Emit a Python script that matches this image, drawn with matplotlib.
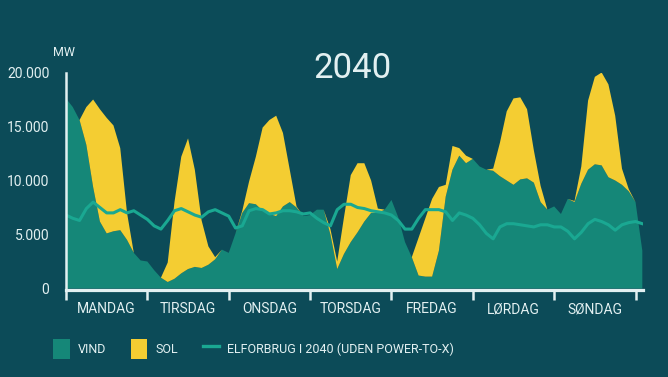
import matplotlib
matplotlib.use("Agg")
import matplotlib.pyplot as plt
from matplotlib.patches import Patch
from matplotlib.lines import Line2D
import numpy as np

plt.rcParams['font.family'] = ['Roboto', 'DejaVu Sans']

BG = "#0c4b58"
VIND_C = "#158778"
SOL_C = "#f4cd32"
LINE_C = "#1aa892"
TXT = "#e2f0f1"

# hours since Monday 00:00, every 2 hours
HOURS = list(range(0, 171, 2))

# MW (thousands)
VIND = [17.6, 16.8, 15.6, 13.3, 9.4, 6.2, 5.1, 5.3, 5.4, 4.5, 3.3, 2.6, 2.5, 1.7, 1.0,
        0.6, 0.9, 1.4, 1.8, 2.0, 1.9, 2.2, 2.7, 3.6, 3.3, 5.1, 7.0, 7.9, 7.8, 7.2,
        6.9, 6.7, 7.6, 8.0, 7.5, 6.7, 6.8, 7.3, 7.3, 5.0, 1.8, 3.2, 4.3, 5.2, 6.2,
        7.0, 7.0, 7.3, 8.2, 6.6, 4.3, 2.9, 1.2, 1.1, 1.1, 3.5, 8.5, 11.0, 12.3, 11.6,
        12.0, 11.3, 11.0, 10.9, 10.4, 10.0, 9.6, 10.1, 10.2, 9.8, 8.0, 7.3, 7.6, 6.9, 8.3,
        8.0, 9.7, 11.0, 11.5, 11.4, 10.3, 10.0, 9.6, 9.0, 8.0, 3.5]
SOL = [0.0, 0.0, 0.0, 3.5, 8.1, 10.4, 10.7, 9.8, 7.6, 2.5, 0.0, 0.0, 0.0, 0.0, 0.0,
       1.8, 7.1, 10.8, 12.1, 9.0, 4.4, 1.7, 0.2, 0.0, 0.0, 0.0, 0.2, 2.0, 4.4, 7.7,
       8.7, 9.3, 6.8, 3.0, 0.1, 0.0, 0.0, 0.0, 0.0, 0.5, 0.7, 3.4, 6.2, 6.4, 5.4,
       3.0, 0.4, 0.0, 0.0, 0.0, 0.0, 0.0, 3.5, 5.4, 7.2, 5.9, 1.1, 2.2, 0.7, 0.7,
       0.0, 0.0, 0.0, 0.2, 3.1, 6.4, 8.0, 7.6, 6.4, 3.0, 1.5, 0.0, 0.0, 0.0, 0.0,
       0.1, 1.6, 6.4, 8.1, 8.6, 8.6, 6.0, 1.5, 0.2, 0.0, 0.0]
FORBRUG = [6.8, 6.5, 6.3, 7.4, 8.0, 7.5, 7.0, 7.0, 7.3, 7.0, 7.2, 6.8, 6.4, 5.8, 5.5,
           6.3, 7.2, 7.4, 7.1, 6.8, 6.6, 7.1, 7.3, 7.0, 6.7, 5.6, 5.8, 7.2, 7.4, 7.3,
           6.9, 7.0, 7.2, 7.2, 7.1, 6.9, 7.0, 6.5, 6.1, 5.8, 7.3, 7.8, 7.8, 7.5, 7.4,
           7.2, 7.1, 7.0, 6.8, 6.3, 5.5, 5.5, 6.5, 7.3, 7.3, 7.3, 7.1, 6.3, 7.0, 6.8,
           6.5, 5.9, 5.1, 4.6, 5.7, 6.0, 6.0, 5.9, 5.8, 5.7, 5.9, 5.9, 5.7, 5.7, 5.3,
           4.6, 5.2, 6.0, 6.4, 6.2, 5.9, 5.4, 5.9, 6.1, 6.2, 6.0]

DAYS = ["MANDAG", "TIRSDAG", "ONSDAG", "TORSDAG", "FREDAG", "LØRDAG", "SØNDAG"]
Y_TICKS = [0, 5000, 10000, 15000, 20000]
Y_LABELS = ["0", "5.000", "10.000", "15.000", "20.000"]

W, H = 668, 377
fig = plt.figure(figsize=(W / 100, H / 100), dpi=100, facecolor=BG)
ax = fig.add_axes([66 / W, (H - 288.5) / H, 577 / W, 216 / H], facecolor=BG)

hrs = np.array(HOURS)
ax.stackplot(hrs, np.array(VIND) * 1000, np.array(SOL) * 1000,
             colors=[VIND_C, SOL_C], linewidth=0)
ax.plot(hrs, np.array(FORBRUG) * 1000, color=LINE_C, lw=2.2, solid_joinstyle="round")

ax.set_xlim(0, 170.2)
ax.set_ylim(0, 20000)
for s in ["top", "right"]:
    ax.spines[s].set_visible(False)
ax.spines["left"].set_color(TXT)
ax.spines["left"].set_linewidth(1.8)
ax.spines["bottom"].set_color(TXT)
ax.spines["bottom"].set_linewidth(2.3)
ax.spines["bottom"].set_position(("outward", 1))

ax.set_yticks(Y_TICKS)
ax.set_yticklabels(Y_LABELS)
ax.tick_params(axis="y", length=0, pad=12, labelsize=10, labelcolor=TXT)

ax.set_xticks(range(0, 169, 24))
ax.set_xticklabels([])
ax.set_xticks([12 + 24 * i for i in range(7)], minor=True)
ax.set_xticklabels(DAYS, minor=True)
ax.tick_params(axis="x", which="major", direction="out", length=7, width=1.8, color=TXT)
ax.tick_params(axis="x", which="minor", length=0, pad=9, labelsize=10, labelcolor=TXT)

fig.text(352 / W, 1 - 68 / H, "2040", ha="center", va="center", fontsize=25, color=TXT)
fig.text(64 / W, 1 - 52 / H, "MW", ha="center", va="center", fontsize=9, color=TXT)

handles = [Patch(facecolor=VIND_C, edgecolor="none", label="VIND"),
           Patch(facecolor=SOL_C, edgecolor="none", label="SOL"),
           Line2D([], [], color=LINE_C, lw=2.4, label="ELFORBRUG I 2040 (UDEN POWER-TO-X)")]
leg = fig.legend(handles=handles, loc="center left", bbox_to_anchor=(42 / W, 1 - 349 / H),
                 ncol=3, frameon=False, handlelength=1.3, handleheight=2.2,
                 handletextpad=0.64, columnspacing=2.0, labelcolor=TXT, fontsize=9)

fig.savefig("out.png", dpi=100, facecolor=BG)
